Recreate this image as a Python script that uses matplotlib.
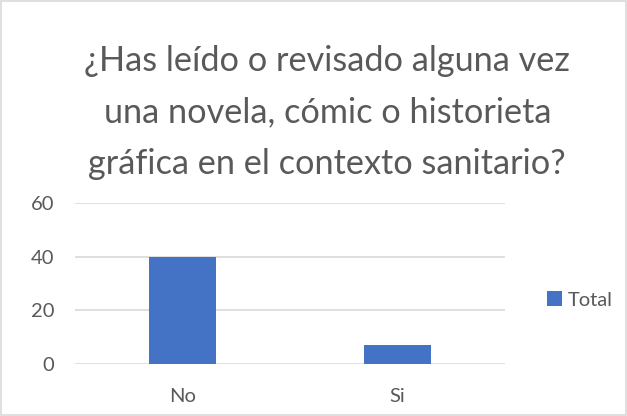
import matplotlib
matplotlib.use("Agg")
import matplotlib.pyplot as plt
from matplotlib.patches import Rectangle

categories = ["No", "Si"]
totals = [40, 7]
yticks = [0, 20, 40, 60]
title = "¿Has leído o revisado alguna vez\nuna novela, cómic o historieta\ngráfica en el contexto sanitario?"

BLUE = "#4472C4"
GREY_TXT = "#595959"
GRID = "#D9D9D9"

plt.rcParams["font.family"] = ["Lato", "DejaVu Sans"]

fig = plt.figure(figsize=(6.27, 4.16), dpi=100)
fig.patches.append(Rectangle((0.002, 0.002), 0.996, 0.996, transform=fig.transFigure,
                             fill=False, edgecolor=GRID, lw=1.2))

ax = fig.add_axes([0.1196, 0.125, 0.686, 0.387])
bars = ax.bar(range(len(categories)), totals, width=0.31, color=BLUE, label="Total", zorder=3)
ax.set_xlim(-0.5, len(categories) - 0.5)
ax.set_ylim(0, 60)
ax.set_yticks(yticks)
ax.set_xticks(range(len(categories)))
ax.set_xticklabels(categories)
ax.yaxis.grid(True, color=GRID, lw=1.2, zorder=0)
for s in ax.spines.values():
    s.set_visible(False)
ax.tick_params(length=0, labelsize=14.5, labelcolor=GREY_TXT)
ax.tick_params(axis="y", pad=15)
ax.tick_params(axis="x", pad=17)

fig.text(0.522, 0.73, title, ha="center", va="center", fontsize=24.7,
         color=GREY_TXT, linespacing=1.75)

fig.legend(handles=[bars], labels=["Total"], loc="center left", bbox_to_anchor=(0.843, 0.279),
           frameon=False, fontsize=14.5, handlelength=0.75, handleheight=0.75, handletextpad=0.3,
           labelcolor=GREY_TXT)

fig.savefig("out.png", dpi=100)
